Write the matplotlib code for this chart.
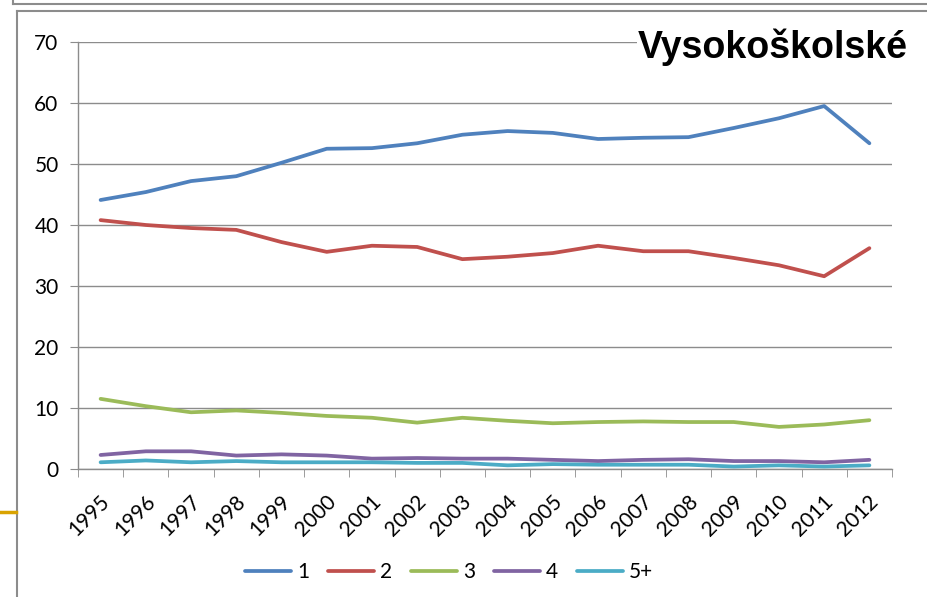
import matplotlib
matplotlib.use("Agg")
import matplotlib.pyplot as plt
from matplotlib.lines import Line2D
from matplotlib.transforms import ScaledTranslation

roky = [str(r) for r in range(1995, 2013)]
s1 = [44.1, 45.4, 47.2, 48.0, 50.2, 52.5, 52.6, 53.4, 54.8, 55.4, 55.1, 54.1, 54.3, 54.4, 55.9, 57.5, 59.5, 53.4]
s2 = [40.8, 40.0, 39.5, 39.2, 37.2, 35.6, 36.6, 36.4, 34.4, 34.8, 35.4, 36.6, 35.7, 35.7, 34.6, 33.4, 31.6, 36.2]
s3 = [11.5, 10.3, 9.3, 9.6, 9.2, 8.7, 8.4, 7.6, 8.4, 7.9, 7.5, 7.7, 7.8, 7.7, 7.7, 6.9, 7.3, 8.0]
s4 = [2.3, 2.9, 2.9, 2.2, 2.4, 2.2, 1.7, 1.8, 1.7, 1.7, 1.5, 1.3, 1.5, 1.6, 1.3, 1.3, 1.1, 1.5]
s5 = [1.1, 1.4, 1.1, 1.3, 1.1, 1.1, 1.1, 1.0, 1.0, 0.6, 0.8, 0.7, 0.7, 0.7, 0.4, 0.6, 0.4, 0.6]
nazvy = ["1", "2", "3", "4", "5+"]
barvy = ["#4F81BD", "#C0504D", "#9BBB59", "#8064A2", "#4BACC6"]

W, H = 927, 597
fig = plt.figure(figsize=(W / 100, H / 100), dpi=100)
fig.patch.set_facecolor("white")

ax = fig.add_axes([78 / W, (H - 469) / H, (892 - 78) / W, (469 - 42) / H])
x = list(range(len(roky)))
for data, nazev, barva in zip([s1, s2, s3, s4, s5], nazvy, barvy):
    ax.plot(x, data, color=barva, lw=2.7, label=nazev, solid_capstyle="round", zorder=3)

ax.set_xlim(-0.5, len(roky) - 0.5)
ax.set_ylim(0, 70)
ax.set_yticks(range(0, 71, 10))
ax.yaxis.grid(True, color="#8c8c8c", lw=1)
ax.set_axisbelow(True)
for s in ["top", "right"]:
    ax.spines[s].set_visible(False)
for s in ["left", "bottom"]:
    ax.spines[s].set_color("#8c8c8c")
    ax.spines[s].set_linewidth(1)

ax.tick_params(axis="y", length=6, color="#8c8c8c", pad=8, labelsize=15)
for lab in ax.get_yticklabels():
    lab.set_fontfamily("Lato")

# category labels at centres, tick marks at boundaries
ax.set_xticks(x)
ax.set_xticks([i - 0.5 for i in range(len(roky) + 1)], minor=True)
ax.tick_params(axis="x", which="major", length=0, pad=21)
ax.tick_params(axis="x", which="minor", length=6, color="#8c8c8c")
ax.set_xticklabels(roky, rotation=45, ha="right", va="center",
                   rotation_mode="anchor", fontsize=15, fontfamily="Lato")
posun = ScaledTranslation(6 / 100, 0, fig.dpi_scale_trans)
for lab in ax.get_xticklabels():
    lab.set_transform(lab.get_transform() + posun)

ax.text(908 / W, 1 - 47 / H, "Vysokoškolské", transform=fig.transFigure,
        ha="right", va="center", fontsize=27, fontweight="bold",
        fontfamily="Liberation Sans", zorder=5,
        bbox=dict(facecolor="white", edgecolor="none", pad=1))

fig.legend(loc="center", bbox_to_anchor=(449 / W, 1 - 572 / H), ncol=5,
           frameon=False, prop={"family": "Lato", "size": 15},
           handlelength=2.2, handletextpad=0.3, columnspacing=0.9)

# frame lines of the slide
cara = dict(transform=fig.transFigure, color="#8c8c8c", lw=1.5)
fig.add_artist(Line2D([13 / W, 1], [1 - 4 / H, 1 - 4 / H], **cara))
fig.add_artist(Line2D([13 / W, 13 / W], [1 - 4 / H, 1], **cara))
fig.add_artist(Line2D([17 / W, 1], [1 - 11 / H, 1 - 11 / H], **cara))
fig.add_artist(Line2D([17 / W, 17 / W], [0, 1 - 11 / H], **cara))
fig.add_artist(Line2D([0, 16 / W], [1 - 512 / H, 1 - 512 / H],
                      transform=fig.transFigure, color="#D9A300", lw=2.5))

fig.savefig("out.png", dpi=100)
